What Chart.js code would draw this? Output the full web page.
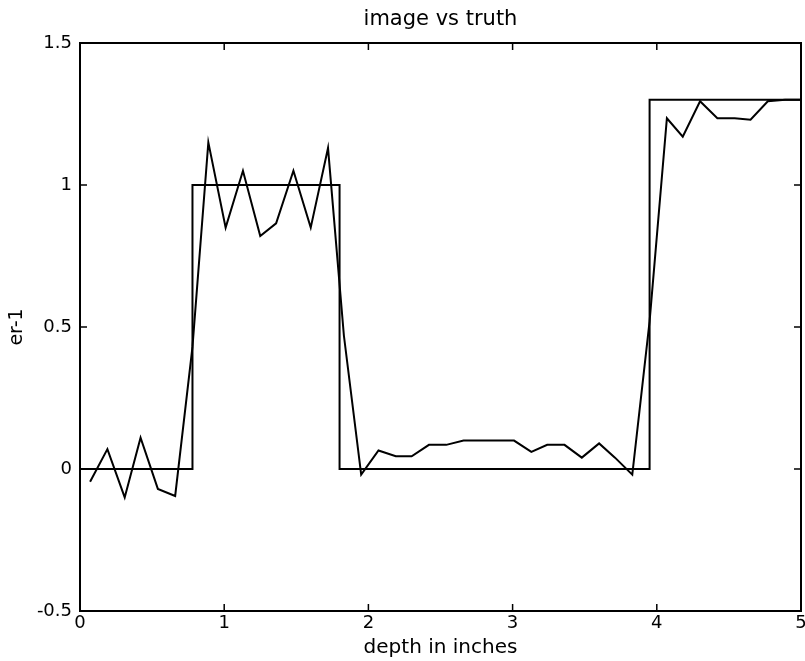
<!DOCTYPE html>
<html>
<head>
<meta charset="utf-8">
<title>image vs truth</title>
<script src="https://cdn.jsdelivr.net/npm/chart.js@4.4.0/dist/chart.umd.min.js"></script>
<style>
  html, body { margin: 0; padding: 0; background: #fff; }
  #chart { display: block; }
</style>
</head>
<body>
<canvas id="chart" width="805" height="661"></canvas>
<script>
const depth = [0.07, 0.19, 0.31, 0.42, 0.54, 0.66, 0.78, 0.89, 1.01, 1.13,
               1.25, 1.36, 1.48, 1.60, 1.72, 1.83, 1.95, 2.07, 2.19, 2.30,
               2.42, 2.54, 2.66, 2.77, 2.89, 3.01, 3.13, 3.24, 3.36, 3.48,
               3.60, 3.71, 3.83, 3.95, 4.07, 4.18, 4.30, 4.42, 4.54, 4.65,
               4.77, 4.89, 5.00];
const imageEr = [-0.045, 0.07, -0.10, 0.11, -0.07, -0.095, 0.43, 1.15, 0.85, 1.05,
                 0.82, 0.865, 1.05, 0.85, 1.13, 0.47, -0.02, 0.065, 0.045, 0.045,
                 0.085, 0.085, 0.10, 0.10, 0.10, 0.10, 0.06, 0.085, 0.085, 0.04,
                 0.09, 0.04, -0.02, 0.52, 1.235, 1.17, 1.295, 1.235, 1.235, 1.23,
                 1.295, 1.30, 1.30];

// true step profile
const truthDepth = [0, 0.78, 0.78, 1.8, 1.8, 3.95, 3.95, 5];
const truthEr = [0, 0, 1, 1, 0, 0, 1.3, 1.3];

const xTicks = [0, 1, 2, 3, 4, 5];
const yTicks = [-0.5, 0, 0.5, 1, 1.5];

const FONT = 'DejaVu Sans';
const TICK_LEN = 7;

// MATLAB-like box with inward ticks on all four sides
const matlabFrame = {
  id: 'matlabFrame',
  afterDatasetsDraw(chart) {
    const {ctx, chartArea: a, scales} = chart;
    ctx.save();
    ctx.strokeStyle = '#000';
    ctx.lineWidth = 2;
    ctx.strokeRect(a.left, a.top, a.right - a.left, a.bottom - a.top);
    ctx.lineWidth = 1.5;
    ctx.beginPath();
    scales.x.ticks.forEach(t => {
      const px = scales.x.getPixelForValue(t.value);
      ctx.moveTo(px, a.bottom); ctx.lineTo(px, a.bottom - TICK_LEN);
      ctx.moveTo(px, a.top); ctx.lineTo(px, a.top + TICK_LEN);
    });
    scales.y.ticks.forEach(t => {
      const py = scales.y.getPixelForValue(t.value);
      ctx.moveTo(a.left, py); ctx.lineTo(a.left + TICK_LEN, py);
      ctx.moveTo(a.right, py); ctx.lineTo(a.right - TICK_LEN, py);
    });
    ctx.stroke();
    ctx.restore();
  }
};

const toPoints = (xs, ys) => xs.map((x, i) => ({x: x, y: ys[i]}));

new Chart(document.getElementById('chart'), {
  type: 'scatter',
  data: {
    datasets: [{
      label: 'truth',
      data: toPoints(truthDepth, truthEr),
      showLine: true,
      borderColor: '#000',
      borderWidth: 2,
      pointRadius: 0,
      tension: 0
    }, {
      label: 'image',
      data: toPoints(depth, imageEr),
      showLine: true,
      borderColor: '#000',
      borderWidth: 2,
      pointRadius: 0,
      tension: 0
    }]
  },
  options: {
    responsive: false,
    animation: false,
    devicePixelRatio: 1,
    layout: { padding: { left: 0, right: 4, top: 0, bottom: 0 } },
    plugins: {
      legend: { display: false },
      tooltip: { enabled: false },
      title: {
        display: true,
        text: 'image vs truth',
        fullSize: false,
        color: '#000',
        font: { family: FONT, size: 21, weight: 'normal' },
        padding: { top: 7, bottom: 10.8 }
      }
    },
    scales: {
      x: {
        type: 'linear',
        position: 'bottom',
        min: 0,
        max: 5,
        grid: { display: false, drawTicks: false },
        border: { display: false },
        afterBuildTicks: s => { s.ticks = xTicks.map(v => ({value: v})); },
        afterFit: s => { s.height = 50; s.paddingLeft = 0; s.paddingRight = 0; },
        ticks: {
          color: '#000',
          padding: 2,
          maxRotation: 0,
          callback: v => String(v),
          font: { family: FONT, size: 18 }
        },
        title: {
          display: true,
          text: 'depth in inches',
          color: '#000',
          font: { family: FONT, size: 20 },
          padding: { top: 0, bottom: 1 }
        }
      },
      y: {
        type: 'linear',
        position: 'left',
        min: -0.5,
        max: 1.5,
        grid: { display: false, drawTicks: false },
        border: { display: false },
        afterBuildTicks: s => { s.ticks = yTicks.map(v => ({value: v})); },
        afterFit: s => { s.width = 80; },
        ticks: {
          color: '#000',
          padding: 8,
          callback: v => String(v),
          font: { family: FONT, size: 18 }
        },
        title: {
          display: true,
          text: 'er-1',
          color: '#000',
          font: { family: FONT, size: 19 },
          padding: { top: 6, bottom: 0 }
        }
      }
    }
  },
  plugins: [matlabFrame]
});
</script>
</body>
</html>
